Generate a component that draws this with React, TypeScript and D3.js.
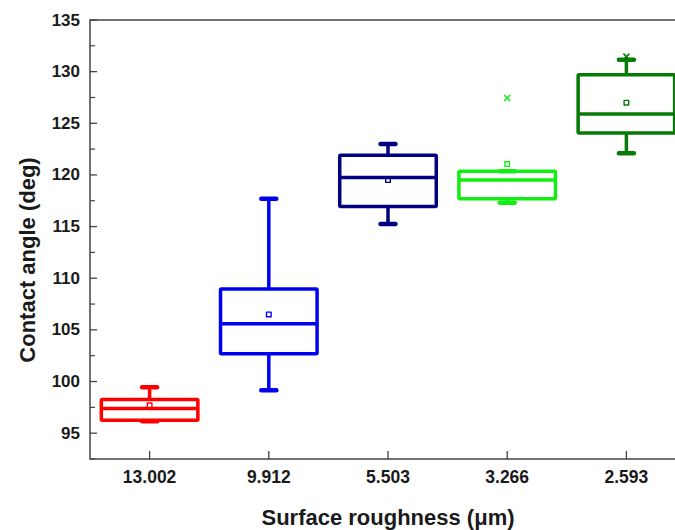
import * as d3 from "d3";

const categories = ["13.002", "9.912", "5.503", "3.266", "2.593"];
const whiskerLow = [96.15, 99.15, 115.25, 117.3, 122.1];
const q1 = [96.25, 102.7, 116.95, 117.7, 124.05];
const median = [97.4, 105.6, 119.75, 119.5, 125.9];
const q3 = [98.25, 108.95, 121.9, 120.35, 129.7];
const whiskerHigh = [99.45, 117.7, 123.0, 120.35, 131.15];
const mean = [97.7, 106.5, 119.5, 121.05, 127.0];
const outliers = [[], [], [], [127.45], [131.45]];
const colors = ["#ff0000", "#0000f0", "#000080", "#12ee12", "#067a06"];
const yTicks = [95, 100, 105, 110, 115, 120, 125, 130, 135];

export default function App() {
  const width = 675;
  const height = 530;
  const marginLeft = 90;
  const plotRight = 686;
  const marginTop = 20;
  const plotBottom = 459;

  const x = d3.scalePoint(categories, [marginLeft, plotRight]).padding(0.5);
  const y = d3.scaleLinear([92.5, 135], [plotBottom, marginTop]);
  const boxW = x.step() * 0.81;
  const capW = 15;
  const minor = d3.range(92.5, 135, 2.5).filter((v) => v % 5 !== 0);
  const font = "'Liberation Sans', Arial, sans-serif";

  return (
    <svg width={width} height={height} style={{ position: "absolute", left: 0, top: 0 }}>
      <rect width={width} height={height} fill="white" />
      {/* frame */}
      <rect x={marginLeft} y={marginTop} width={plotRight - marginLeft} height={plotBottom - marginTop}
        fill="none" stroke="#444" strokeWidth={1.5} />
      {/* y ticks */}
      {yTicks.map((t) => (
        <g key={t}>
          <line x1={marginLeft} x2={marginLeft + 7} y1={y(t)} y2={y(t)} stroke="#444" strokeWidth={1.3} />
          <text x={80} y={y(t)} textAnchor="end" dominantBaseline="central" fontFamily={font}
            fontWeight="bold" fontSize={17} fill="#1a1a1a">{t}</text>
        </g>
      ))}
      {minor.map((t) => (
        <line key={t} x1={marginLeft} x2={marginLeft + 5} y1={y(t)} y2={y(t)} stroke="#444" strokeWidth={1.2} />
      ))}
      {/* x ticks */}
      {categories.map((c) => (
        <g key={c}>
          <line x1={x(c)} x2={x(c)} y1={plotBottom} y2={plotBottom - 8} stroke="#444" strokeWidth={1.3} />
          <text x={x(c)} y={477} textAnchor="middle" dominantBaseline="central" fontFamily={font}
            fontWeight="bold" fontSize={17.5} fill="#1a1a1a">{c}</text>
        </g>
      ))}
      {/* boxes */}
      {categories.map((c, i) => {
        const cx = x(c)!;
        const col = colors[i];
        return (
          <g key={c} stroke={col} fill="none" strokeLinejoin="round">
            <line x1={cx} x2={cx} y1={y(q3[i])} y2={y(whiskerHigh[i])} strokeWidth={3.5} />
            <line x1={cx} x2={cx} y1={y(q1[i])} y2={y(whiskerLow[i])} strokeWidth={3.5} />
            <line x1={cx - capW / 2} x2={cx + capW / 2} y1={y(whiskerHigh[i])} y2={y(whiskerHigh[i])}
              strokeWidth={4.5} strokeLinecap="round" />
            <line x1={cx - capW / 2} x2={cx + capW / 2} y1={y(whiskerLow[i])} y2={y(whiskerLow[i])}
              strokeWidth={4.5} strokeLinecap="round" />
            <rect x={cx - boxW / 2} y={y(q3[i])} width={boxW} height={y(q1[i]) - y(q3[i])} strokeWidth={3.5} rx={1} />
            <line x1={cx - boxW / 2} x2={cx + boxW / 2} y1={y(median[i])} y2={y(median[i])} strokeWidth={3.5} />
            <rect x={cx - 2.3} y={y(mean[i]) - 2.3} width={4.6} height={4.6} strokeWidth={1.4} />
            {outliers[i].map((o, j) => (
              <path key={j} d={`M${cx - 3},${y(o) - 3}L${cx + 3},${y(o) + 3}M${cx - 3},${y(o) + 3}L${cx + 3},${y(o) - 3}`}
                strokeWidth={1.6} />
            ))}
          </g>
        );
      })}
      {/* axis titles */}
      <text x={388} y={517} textAnchor="middle" dominantBaseline="central" fontFamily={font}
        fontWeight="bold" fontSize={22} fill="#1a1a1a">Surface roughness (μm)</text>
      <text transform={`translate(27,${260}) rotate(-90)`} textAnchor="middle" dominantBaseline="central"
        fontFamily={font} fontWeight="bold" fontSize={22} fill="#1a1a1a">Contact angle (deg)</text>
    </svg>
  );
}
